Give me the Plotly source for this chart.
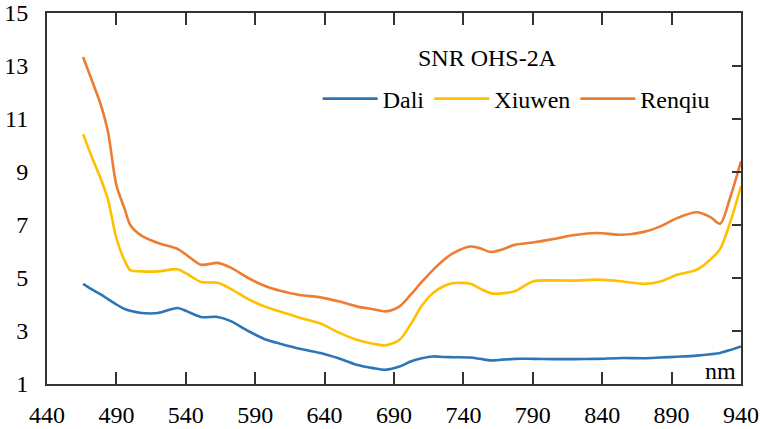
import plotly.graph_objects as go

wavelength = [466, 472, 479, 484, 490, 496, 500, 508, 520, 534, 541, 551, 563, 572, 585, 598,
              608, 622, 637, 650, 663, 675, 684, 694, 702, 710, 718, 726, 733, 745, 752, 760,
              768, 777, 790, 805, 820, 836, 855, 870, 882, 894, 908, 918, 925, 932, 940]

dali = [4.78, 4.58, 4.37, 4.20, 4.00, 3.83, 3.76, 3.68, 3.68, 3.87, 3.74, 3.53, 3.53, 3.38, 3.00, 2.67,
        2.52, 2.33, 2.17, 1.97, 1.73, 1.60, 1.54, 1.66, 1.85, 1.97, 2.04, 2.02, 2.01, 2.00, 1.95, 1.89,
        1.92, 1.95, 1.95, 1.94, 1.94, 1.95, 1.98, 1.97, 2.00, 2.03, 2.07, 2.12, 2.17, 2.28, 2.42]

xiuwen = [10.43, 9.60, 8.71, 7.95, 6.50, 5.65, 5.30, 5.25, 5.25, 5.33, 5.15, 4.85, 4.82, 4.60, 4.20, 3.90,
          3.74, 3.50, 3.28, 2.95, 2.67, 2.52, 2.46, 2.67, 3.25, 3.95, 4.43, 4.70, 4.81, 4.78, 4.60, 4.42,
          4.42, 4.50, 4.87, 4.91, 4.90, 4.94, 4.87, 4.78, 4.87, 5.12, 5.31, 5.70, 6.10, 7.07, 8.46]

renqiu = [13.34, 12.50, 11.50, 10.50, 8.50, 7.60, 7.00, 6.60, 6.32, 6.10, 5.85, 5.50, 5.57, 5.40, 5.00, 4.68,
          4.52, 4.36, 4.27, 4.12, 3.93, 3.82, 3.74, 3.93, 4.37, 4.85, 5.30, 5.69, 5.95, 6.19, 6.12, 5.98,
          6.08, 6.25, 6.34, 6.47, 6.62, 6.70, 6.63, 6.74, 6.95, 7.26, 7.48, 7.30, 7.05, 8.00, 9.40]

x_ticks = [440, 490, 540, 590, 640, 690, 740, 790, 840, 890, 940]
y_ticks = [1, 3, 5, 7, 9, 11, 13, 15]

series = [("Dali", dali, "#2E75B6"), ("Xiuwen", xiuwen, "#FFC000"), ("Renqiu", renqiu, "#ED7D31")]

FONT = "Liberation Serif"
FS = 24
AX = "#333333"

fig = go.Figure()
for name, vals, color in series:
    fig.add_trace(go.Scatter(x=wavelength, y=vals, name=name, mode="lines",
                             line=dict(color=color, width=2.6, shape="spline", smoothing=0.8)))

fig.add_trace(go.Scatter(x=[wavelength[0]], y=[dali[0]], yaxis="y2", mode="lines",
                         showlegend=False, hoverinfo="skip", line=dict(width=0)))

fig.update_layout(
    width=760, height=429,
    margin=dict(l=47, r=19, t=13, b=45, autoexpand=False),
    paper_bgcolor="white", plot_bgcolor="white",
    font=dict(family=FONT, size=FS, color="black"),
    showlegend=True,
    legend=dict(orientation="h", x=0.39, y=0.768, xanchor="left", yanchor="middle",
                font=dict(family=FONT, size=FS, color="black"),
                bgcolor="rgba(0,0,0,0)", itemwidth=55, tracegroupgap=0),
    xaxis=dict(range=[440, 940], tickmode="array", tickvals=x_ticks,
               ticks="inside", ticklen=12, tickwidth=1.5, tickcolor=AX,
               showline=True, linecolor=AX, linewidth=2, mirror="ticks",
               showgrid=False, zeroline=False, ticklabelstandoff=8, automargin=False,
               tickfont=dict(family=FONT, size=FS, color="black")),
    yaxis=dict(range=[1, 15], tickmode="array", tickvals=y_ticks,
               ticks="", showline=True, linecolor=AX, linewidth=2, mirror=True,
               showgrid=False, zeroline=False, ticklabelstandoff=12, automargin=False,
               tickfont=dict(family=FONT, size=FS, color="black")),
    yaxis2=dict(range=[1, 15], overlaying="y", side="right", matches="y",
                tickmode="array", tickvals=y_ticks, ticks="inside", ticklen=9,
                tickwidth=1.5, tickcolor=AX, showticklabels=False, automargin=False,
                showline=False, showgrid=False, zeroline=False),
    annotations=[
        dict(text="SNR OHS-2A", x=0.635, y=0.879, xref="paper", yref="paper",
             showarrow=False, xanchor="center", yanchor="middle",
             font=dict(family=FONT, size=FS, color="black")),
        dict(text="nm", x=0.97, y=0.035, xref="paper", yref="paper",
             showarrow=False, xanchor="center", yanchor="middle",
             font=dict(family=FONT, size=FS, color="black")),
    ],
)

fig.write_html("out.html")
